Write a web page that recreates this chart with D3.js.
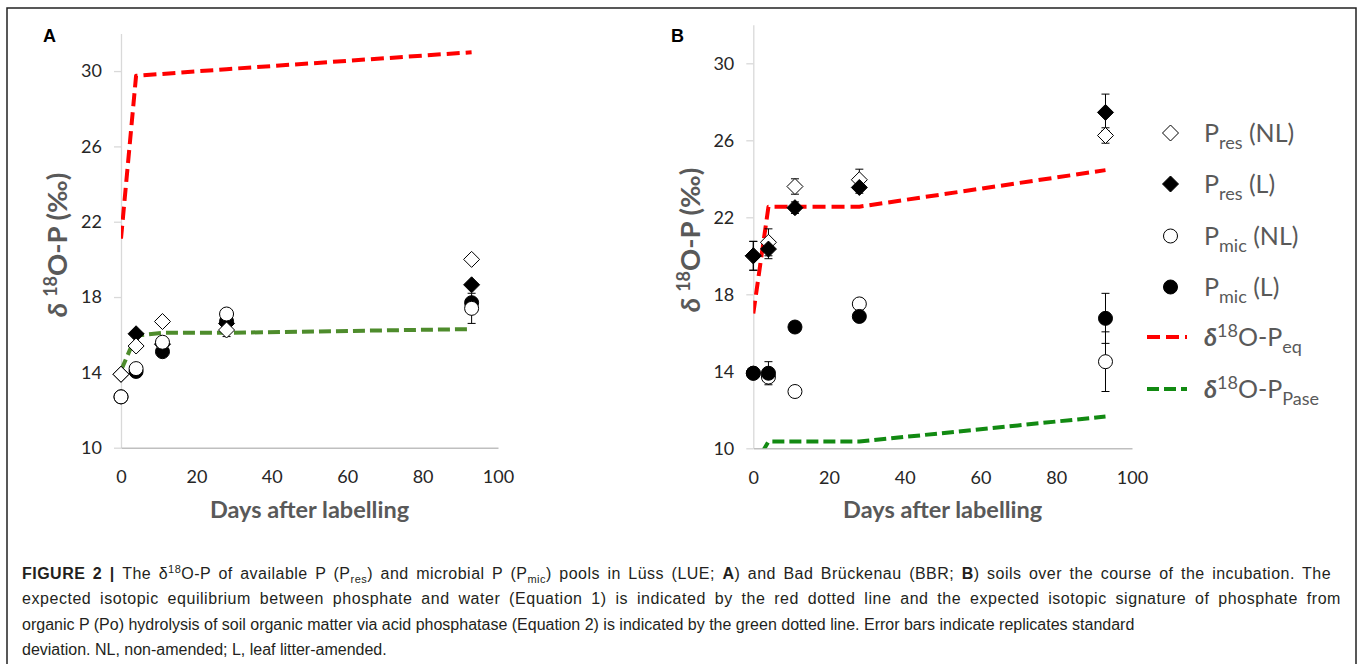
<!DOCTYPE html>
<html><head><meta charset="utf-8">
<script src="https://cdn.jsdelivr.net/npm/d3@7"></script>
<style>
body{margin:0;background:#fff;}
svg{display:block;}
</style></head><body>
<svg id="c" width="1358" height="664"></svg>
<script>
// ---------- data ----------
const days = [0, 4, 11, 28, 93];
const xTicks = [0, 20, 40, 60, 80, 100];
const yTicks = [10, 14, 18, 22, 26, 30];
const seriesNames = ["Pres (NL)", "Pres (L)", "Pmic (NL)", "Pmic (L)"];

// Panel A (Lüss)
const aPresNL = [13.9, 15.4, 16.7, 16.25, 20.0];
const aPresNLErr = [0, 0, 0, 0.35, 0];
const aPresL = [13.9, 16.05, 15.5, 16.6, 18.65];
const aPresLErr = [0, 0, 0, 0, 0];
const aMicNL = [12.7, 14.2, 15.6, 17.1, 17.4];
const aMicNLErr = [0, 0, 0, 0, 0.8];
const aMicL = [12.7, 14.05, 15.1, 16.7, 17.7];
const aMicLErr = [0, 0, 0, 0, 0];
const aEq = [21.1, 29.75, 29.85, 30.1, 31.0];
const aPase = [14.1, 15.95, 16.1, 16.1, 16.3];

// Panel B (Bad Brückenau)
const bPresNL = [20.0, 20.7, 23.6, 23.95, 26.25];
const bPresNLErr = [0.75, 0.7, 0.4, 0.55, 0.4];
const bPresL = [20.0, 20.35, 22.5, 23.55, 27.45];
const bPresLErr = [0.75, 0.5, 0.3, 0.3, 0.95];
const bMicNL = [13.9, 13.7, 12.95, 17.5, 14.5];
const bMicNLErr = [0, 0.25, 0, 0, 1.55];
const bMicL = [13.9, 13.9, 16.3, 16.85, 16.75];
const bMicLErr = [0, 0.6, 0, 0, 1.3];
const bEq = [17.0, 22.55, 22.55, 22.55, 24.45];
const bPase = [9.0, 10.35, 10.35, 10.35, 11.65];

// ---------- helpers ----------
const svg = d3.select("#c");
const FONT = "Lato, 'Open Sans', sans-serif";
const GRAY = "#595959";

function rich(textSel, parts) {
  let shift = 0;
  parts.forEach(p => {
    const ts = textSel.append("tspan").text(p.t);
    const target = p.sub ? p.sub : (p.sup ? -p.sup : 0);
    const dy = target - shift;
    if (dy) ts.attr("dy", dy);
    shift = target;
    if (p.size) ts.attr("font-size", p.size);
    if (p.bold) ts.attr("font-weight", "bold");
    if (p.italic) ts.attr("font-style", "italic");
  });
}

const diamond = {
  draw(ctx, size) {
    const r = Math.sqrt(size / 2);
    ctx.moveTo(0, -r); ctx.lineTo(r, 0); ctx.lineTo(0, r); ctx.lineTo(-r, 0); ctx.closePath();
  }
};
const diamondPath = d3.symbol().type(diamond).size(2 * 8 * 8)();

function marker(g, kind, filled, cx, cy) {
  const fill = filled ? "#000" : "#fff";
  if (kind === "d") {
    g.append("path").attr("d", diamondPath).attr("transform", `translate(${cx},${cy})`)
      .attr("fill", fill).attr("stroke", "#000").attr("stroke-width", 1);
  } else {
    g.append("circle").attr("cx", cx).attr("cy", cy).attr("r", 7)
      .attr("fill", fill).attr("stroke", "#000").attr("stroke-width", 1);
  }
}

// outer frame
svg.append("path").attr("d", "M7,700 V8 H1356 V700").attr("fill", "none")
  .attr("stroke", "#222").attr("stroke-width", 1.5);

function panel(cfg) {
  const x = d3.scaleLinear().domain([0, 100]).range(cfg.xr);
  const y = d3.scaleLinear().domain([10, 32]).range(cfg.yr);
  const g = svg.append("g");

  // y axis
  const ya = g.append("g").attr("transform", `translate(${cfg.xr[0]},0)`)
    .call(d3.axisLeft(y).tickValues(yTicks).tickSizeInner(7).tickSizeOuter(0).tickPadding(12));
  ya.select(".domain").attr("stroke", "#d9d9d9").attr("stroke-width", 1.3);
  ya.selectAll(".tick line").attr("stroke", "#d9d9d9").attr("stroke-width", 1.3);
  ya.selectAll(".tick text").attr("font-family", FONT).attr("font-size", 18).attr("fill", "#262626");

  // x axis
  const xa = g.append("g").attr("transform", `translate(0,${cfg.yr[0]})`)
    .call(d3.axisBottom(x).tickValues(xTicks).tickSizeInner(0).tickSizeOuter(0).tickPadding(23));
  xa.select(".domain").attr("stroke", "#bfbfbf").attr("stroke-width", 1.5);
  xa.selectAll(".tick line").remove();
  xa.selectAll(".tick text").attr("font-family", FONT).attr("font-size", 18).attr("fill", "#262626");

  // titles
  g.append("text").attr("x", (cfg.xr[0] + cfg.xr[1]) / 2).attr("y", 518)
    .attr("text-anchor", "middle").attr("font-family", FONT).attr("font-size", 23.5)
    .attr("font-weight", "bold").attr("fill", GRAY).text("Days after labelling");
  const yt = g.append("text").attr("transform", `translate(${cfg.ytx},${cfg.yty}) rotate(-90)`)
    .attr("text-anchor", "middle").attr("font-family", FONT).attr("font-size", 27.5)
    .attr("font-weight", "bold").attr("fill", GRAY).attr("dy", "0.35em");
  rich(yt, [{t: "δ ", italic: true}, {t: "18", sup: 10, size: 18}, {t: "O-P (‰)"}]);

  g.append("text").attr("x", cfg.lx).attr("y", 42).attr("font-family", "'Liberation Sans', Arial, sans-serif")
    .attr("font-size", 18).attr("font-weight", "bold").attr("fill", "#000").text(cfg.label);

  // clip
  const cid = "clip" + cfg.label;
  svg.append("clipPath").attr("id", cid).append("rect")
    .attr("x", cfg.xr[0]).attr("y", cfg.yr[1]).attr("width", cfg.xr[1] - cfg.xr[0])
    .attr("height", cfg.yr[0] - cfg.yr[1]);

  // lines
  const line = d3.line().x((d, i) => x(days[i])).y(d => y(d));
  const lg = g.append("g").attr("clip-path", `url(#${cid})`);
  cfg.lines.forEach(l => {
    lg.append("path").attr("d", line(l.v)).attr("fill", "none").attr("stroke", l.color)
      .attr("stroke-width", 4).attr("stroke-dasharray", l.dash).attr("stroke-linejoin", "round");
  });

  // error bars
  const eg = g.append("g").attr("stroke", "#000").attr("stroke-width", 1);
  cfg.series.forEach(s => {
    s.v.forEach((v, i) => {
      const e = s.e[i];
      if (v == null || !e) return;
      const cx = x(days[i]);
      eg.append("line").attr("x1", cx).attr("x2", cx).attr("y1", y(v - e)).attr("y2", y(v + e));
      [v - e, v + e].forEach(w => eg.append("line").attr("x1", cx - 4).attr("x2", cx + 4)
        .attr("y1", y(w)).attr("y2", y(w)));
    });
  });

  // markers
  const mg = g.append("g");
  cfg.series.forEach(s => {
    s.v.forEach((v, i) => { if (v != null) marker(mg, s.kind, s.filled, x(days[i]), y(v)); });
  });
}

panel({
  label: "A", lx: 43, xr: [121, 498], yr: [447.7, 33.4], ytx: 57, yty: 245,
  lines: [
    {v: aEq, color: "#ff0000", dash: "13,6"},
    {v: aPase, color: "#4e8c2c", dash: "12,5"}
  ],
  series: [
    {v: aPresL, e: aPresLErr, kind: "d", filled: true},
    {v: aMicL, e: aMicLErr, kind: "c", filled: true},
    {v: aPresNL, e: aPresNLErr, kind: "d", filled: false},
    {v: aMicNL, e: aMicNLErr, kind: "c", filled: false}
  ]
});

panel({
  label: "B", lx: 671, xr: [753.3, 1132], yr: [448.3, 24.8], ytx: 690, yty: 240,
  lines: [
    {v: bEq, color: "#ff0000", dash: "13,6"},
    {v: bPase, color: "#128a12", dash: "12,5"}
  ],
  series: [
    {v: bPresNL, e: bPresNLErr, kind: "d", filled: false},
    {v: bMicNL, e: bMicNLErr, kind: "c", filled: false},
    {v: bPresL, e: bPresLErr, kind: "d", filled: true},
    {v: bMicL, e: bMicLErr, kind: "c", filled: true}
  ]
});

// ---------- legend ----------
const leg = svg.append("g").attr("font-family", FONT).attr("fill", GRAY);
const legItems = [
  {kind: "d", filled: false, y: 133, main: "P", sub: "res", rest: " (NL)"},
  {kind: "d", filled: true, y: 184, main: "P", sub: "res", rest: " (L)"},
  {kind: "c", filled: false, y: 236, main: "P", sub: "mic", rest: " (NL)"},
  {kind: "c", filled: true, y: 287, main: "P", sub: "mic", rest: " (L)"}
];
legItems.forEach((it, i) => {
  marker(leg, it.kind, it.filled, 1170.5, it.y);
  const t = leg.append("text").attr("x", 1204).attr("y", it.y + 9).attr("font-size", 25);
  rich(t, [{t: it.main}, {t: it.sub, sub: 7, size: 18}, {t: it.rest}]);
});
const legLines = [
  {color: "#ff0000", dash: "13,6", y: 337, sub: "eq"},
  {color: "#128a12", dash: "12,5", y: 389, sub: "Pase"}
];
legLines.forEach(l => {
  leg.append("line").attr("x1", 1147).attr("x2", 1187).attr("y1", l.y).attr("y2", l.y)
    .attr("stroke", l.color).attr("stroke-width", 4).attr("stroke-dasharray", l.dash);
  const t = leg.append("text").attr("x", 1204).attr("y", l.y + 9).attr("font-size", 25);
  rich(t, [{t: "δ", bold: true, italic: true}, {t: "18", sup: 9, size: 18}, {t: "O-P"}, {t: l.sub, sub: 7, size: 18}]);
});

// ---------- caption ----------
const cap = svg.append("g").attr("font-family", "'Liberation Sans', Arial, sans-serif")
  .attr("font-size", 16).attr("fill", "#231f20");
const capLines = [
  [{t: "FIGURE 2 | ", bold: true}, {t: "The δ"}, {t: "18", sup: 6, size: 11}, {t: "O-P of available P (P"},
   {t: "res", sub: 4, size: 11}, {t: ") and microbial P (P"}, {t: "mic", sub: 4, size: 11},
   {t: ") pools in Lüss (LUE; "}, {t: "A", bold: true}, {t: ") and Bad Brückenau (BBR; "}, {t: "B", bold: true},
   {t: ") soils over the course of the incubation. The"}],
  [{t: "expected isotopic equilibrium between phosphate and water (Equation 1) is indicated by the red dotted line and the expected isotopic signature of phosphate from"}],
  [{t: "organic P (Po) hydrolysis of soil organic matter via acid phosphatase (Equation 2) is indicated by the green dotted line. Error bars indicate replicates standard"}],
  [{t: "deviation. NL, non-amended; L, leaf litter-amended."}]
];
const capY = [579, 604, 630, 655];
const capRight = [1331, 1341, null, null];
capLines.forEach((parts, i) => {
  const t = cap.append("text").attr("x", 22).attr("y", capY[i]);
  rich(t, parts);
  if (capRight[i]) {
    const len = t.node().getComputedTextLength();
    const str = parts.map(p => p.t).join("");
    const spaces = str.split(" ").length - 1;
    const extra = capRight[i] - 22 - len;
    if (extra > 0) {
      t.attr("word-spacing", 0.5 * extra / spaces);
      t.attr("letter-spacing", 0.5 * extra / str.length);
    }
  }
});
</script>
</body></html>
